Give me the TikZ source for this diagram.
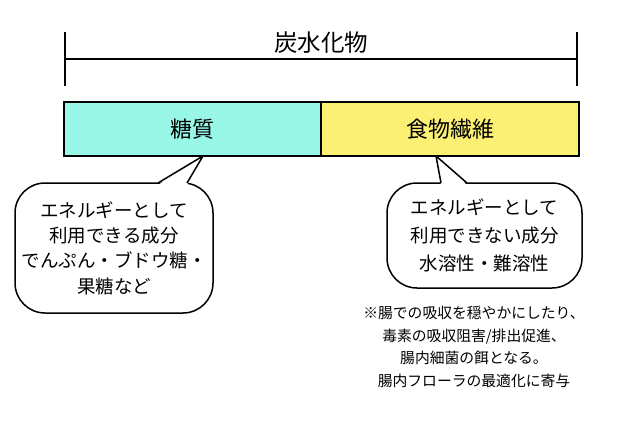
\documentclass[tikz,border=0pt]{standalone}
\usepackage{fontspec}
\setmainfont{Noto Sans CJK JP}
\usepackage{tikz}
\usetikzlibrary{positioning, arrows.meta, calc}
\definecolor{sugarcyan}{RGB}{153,247,232}
\definecolor{fiberyellow}{RGB}{251,240,115}

\begin{document}
\begin{tikzpicture}[x=1pt, y=-1pt,
    part/.style={draw=black, line width=1.3pt, rectangle, minimum width=257pt, minimum height=54pt, inner sep=0pt, outer sep=0pt, font=\fontsize{22}{26}\selectfont},
    title/.style={font=\fontsize{23.5}{27}\selectfont},
    callout/.style={draw=black, line width=1.5pt, rectangle, rounded corners=30pt, fill=white, inner sep=0pt, outer sep=0pt, align=center, font=\fontsize{18.5}{25.3}\selectfont},
    tail/.style={line width=1.5pt, line join=round},
    note/.style={align=center, font=\fontsize{14.8}{22.7}\selectfont},
    bracket/.style={line width=1.6pt, {Bar[width=54pt]}-{Bar[width=54pt]}}
]
\useasboundingbox (0,0) rectangle (631,422);

% Kasten
\node[part, fill=sugarcyan, anchor=north west] (sugar) at (64,102) {糖質};
\node[part, fill=fiberyellow, minimum width=258pt, right=0pt of sugar] (fiber) {食物繊維};

% Klammer oben
\coordinate (bl) at ([yshift=43pt]sugar.north west);
\coordinate (br) at ([yshift=43pt, xshift=-1pt]fiber.north east);
\draw[bracket] (bl) -- (br) node[midway, yshift=16pt, title] (carb) {炭水化物};

% Sprechblasen
\node[callout, minimum width=198pt, minimum height=130pt] (energy) at (114,248) {エネルギーとして\\利用できる成分\\でんぷん・ブドウ糖・\\果糖など};
\node[callout, minimum width=195pt, minimum height=105pt, font=\fontsize{18.5}{28}\selectfont] (noenergy) at (484.5,235.5) {エネルギーとして\\利用できない成分\\水溶性・難溶性};

\coordinate (tipL) at ([xshift=139pt]sugar.south west);
\coordinate (tipR) at ([xshift=115pt]fiber.south west);
\coordinate (baseLa) at ([xshift=143pt]energy.north west);
\coordinate (baseLb) at ([xshift=172pt]energy.north west);
\coordinate (baseRa) at ([xshift=54pt]noenergy.north west);
\coordinate (baseRb) at ([xshift=80pt]noenergy.north west);

\fill[white] ([yshift=-2pt]baseLa) -- (tipL) -- ([yshift=-2pt]baseLb) -- cycle;
\draw[tail] (baseLa) -- (tipL) -- (baseLb);
\fill[white] ([yshift=-2pt]baseRa) -- (tipR) -- ([yshift=-2pt]baseRb) -- cycle;
\draw[tail] (baseRa) -- (tipR) -- (baseRb);

% Anmerkung
\node[note] (remark) at (474,347) {※腸での吸収を穏やかにしたり、\\毒素の吸収阻害/排出促進、\\腸内細菌の餌となる。\\腸内フローラの最適化に寄与};

\end{tikzpicture}
\end{document}
